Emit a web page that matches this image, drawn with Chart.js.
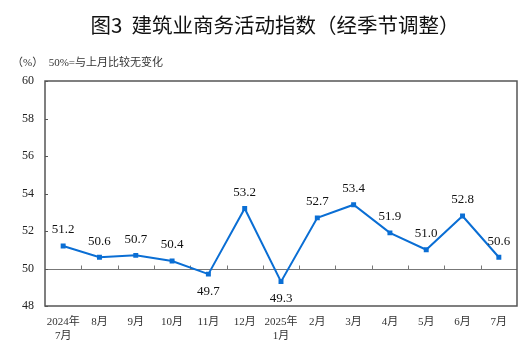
<!DOCTYPE html>
<html lang="zh">
<head>
<meta charset="UTF-8">
<title>建筑业商务活动指数</title>
<style>
    html, body { margin: 0; padding: 0; background: #fff; }
    #wrap { width: 530px; height: 350px; position: relative; }
</style>
<script src="https://cdn.jsdelivr.net/npm/chart.js"></script>
</head>
<body>
<div id="wrap"><canvas id="c"></canvas></div>
<script>
const title = '图3  建筑业商务活动指数（经季节调整）';
const note = '（%）  50%=与上月比较无变化';
const months = [['2024年', '7月'], '8月', '9月', '10月', '11月', '12月', ['2025年', '1月'],
    '2月', '3月', '4月', '5月', '6月', '7月'];
const index = [51.2, 50.6, 50.7, 50.4, 49.7, 53.2, 49.3, 52.7, 53.4, 51.9, 51.0, 52.8, 50.6];
const yTicks = [48, 50, 52, 54, 56, 58, 60];

const serif = '"Liberation Serif", "Noto Sans CJK SC", serif';
const blue = '#0a6ed4';
const frameColor = '#555';

// frame, the 50 line with its ticks, inner y ticks, point labels and texts
const decor = {
    id: 'decor',
    beforeDatasetsDraw(chart) {
        const ctx = chart.ctx;
        const a = chart.chartArea;
        const x = chart.scales.x, y = chart.scales.y;
        ctx.save();
        // 50 baseline
        const y50 = Math.round(y.getPixelForValue(50)) + 0.5;
        ctx.strokeStyle = '#777';
        ctx.lineWidth = 1;
        ctx.beginPath();
        ctx.moveTo(a.left, y50);
        ctx.lineTo(a.right, y50);
        // category boundary ticks, pointing up
        for (let i = 1; i < months.length; i++) {
            const px = Math.round((x.getPixelForValue(i - 1) + x.getPixelForValue(i)) / 2) + 0.5;
            ctx.moveTo(px, y50);
            ctx.lineTo(px, y50 - 4);
        }
        ctx.stroke();
        // inner y ticks
        ctx.strokeStyle = frameColor;
        ctx.beginPath();
        yTicks.forEach(v => {
            const py = Math.round(y.getPixelForValue(v)) + 0.5;
            ctx.moveTo(a.left, py);
            ctx.lineTo(a.left + 3, py);
        });
        ctx.stroke();
        // frame
        ctx.lineWidth = 1.5;
        ctx.strokeStyle = frameColor;
        ctx.strokeRect(a.left, a.top, a.right - a.left, a.bottom - a.top);
        ctx.restore();
    },
    afterDatasetsDraw(chart) {
        const ctx = chart.ctx;
        const pts = chart.getDatasetMeta(0).data;
        ctx.save();
        ctx.fillStyle = '#111';
        ctx.font = '13px ' + serif;
        ctx.textAlign = 'center';
        ctx.textBaseline = 'middle';
        pts.forEach((p, i) => {
            const dy = index[i] < 50 ? 17 : -16;
            ctx.fillText(index[i].toFixed(1), p.x, p.y + dy);
        });
        // title
        ctx.font = '20.5px "Noto Sans CJK SC", sans-serif';
        ctx.fillStyle = '#111';
        ctx.fillText(title, 275, 25);
        // unit note
        ctx.textAlign = 'left';
        ctx.font = '11px ' + serif;
        ctx.fillStyle = '#333';
        ctx.fillText(note, 12, 63);
        ctx.restore();
    }
};

new Chart(document.getElementById('c'), {
    type: 'line',
    data: {
        labels: months,
        datasets: [{
            data: index,
            borderColor: blue,
            backgroundColor: blue,
            borderWidth: 2,
            pointStyle: 'rect',
            pointRadius: 3.5,
            pointHoverRadius: 3.5,
            pointBorderWidth: 0,
            tension: 0
        }]
    },
    options: {
        responsive: true,
        maintainAspectRatio: false,
        animation: false,
        layout: { padding: { top: 81, right: 13, left: 0, bottom: 0 } },
        plugins: {
            legend: { display: false },
            tooltip: { enabled: false }
        },
        scales: {
            x: {
                offset: true,
                grid: { display: false },
                border: { display: false },
                ticks: {
                    color: '#333',
                    font: { family: serif, size: 11 },
                    maxRotation: 0,
                    autoSkip: false,
                    padding: 2
                },
                afterFit(s) { s.height = 44; }
            },
            y: {
                min: 48,
                max: 60,
                grid: { display: false },
                border: { display: false },
                ticks: {
                    stepSize: 2,
                    color: '#222',
                    font: { family: serif, size: 12 },
                    padding: 3
                },
                afterFit(s) { s.width = 45; }
            }
        }
    },
    plugins: [decor]
});
</script>
</body>
</html>
